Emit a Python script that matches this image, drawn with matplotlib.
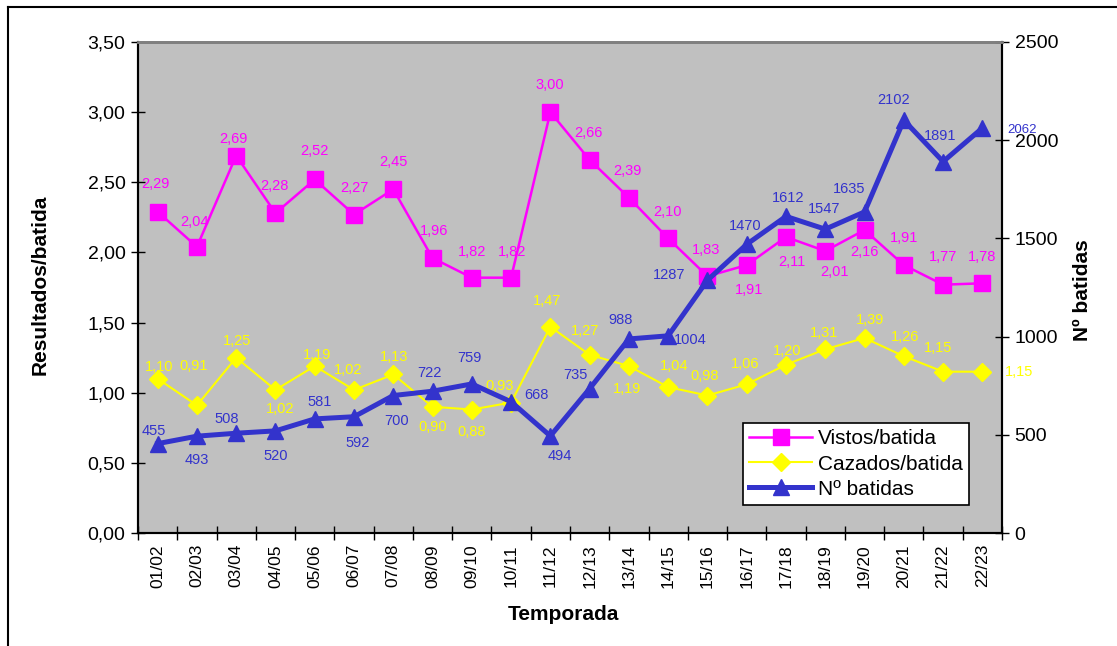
import matplotlib
matplotlib.use('Agg')
import matplotlib.pyplot as plt
from matplotlib.ticker import FuncFormatter, MultipleLocator
from matplotlib.lines import Line2D

plt.rcParams['font.family'] = ['Liberation Sans', 'DejaVu Sans']

# datos
temporadas = ['01/02', '02/03', '03/04', '04/05', '05/06', '06/07', '07/08', '08/09',
              '09/10', '10/11', '11/12', '12/13', '13/14', '14/15', '15/16', '16/17',
              '17/18', '18/19', '19/20', '20/21', '21/22', '22/23']
vistos = [2.29, 2.04, 2.69, 2.28, 2.52, 2.27, 2.45, 1.96, 1.82, 1.82, 3.00,
          2.66, 2.39, 2.10, 1.83, 1.91, 2.11, 2.01, 2.16, 1.91, 1.77, 1.78]
cazados = [1.10, 0.91, 1.25, 1.02, 1.19, 1.02, 1.13, 0.90, 0.88, 0.93, 1.47,
           1.27, 1.19, 1.04, 0.98, 1.06, 1.20, 1.31, 1.39, 1.26, 1.15, 1.15]
batidas = [455, 493, 508, 520, 581, 592, 700, 722, 759, 668, 494,
           735, 988, 1004, 1287, 1470, 1612, 1547, 1635, 2102, 1891, 2062]

# posicion de las etiquetas (pixeles respecto al punto)
off_vistos = [(-2, 28), (-2, 25), (-3, 17), (-1, 27), (0, 28), (0, 27), (0, 27), (2, 27),
              (0, 26), (1, 26), (-1, 27), (-1, 27), (-1, 27), (-1, 26), (-1, 26), (2, -25),
              (6, -25), (9, -21), (0, -22), (0, 27), (0, 28), (0, 26)]
off_cazados = [(1, 12), (-3, 39), (1, 17), (5, -19), (2, 11), (-6, 20), (1, 17), (0, -20),
               (0, -22), (-11, 17), (-3, 26), (-5, 24), (-2, -23), (6, 21), (-3, 20), (-2, 20),
               (1, 14), (-1, 16), (6, 18), (1, 19), (-5, 24), (37, 0)]
off_batidas = [(-4, 13), (0, -24), (-9, 14), (0, -25), (5, 17), (4, -26), (3, -25), (-3, 18),
               (-2, 26), (25, 7), (9, -20), (-14, 14), (-8, 19), (22, -4), (-38, 5), (-2, 18),
               (2, 18), (-1, 20), (-15, 23), (-10, 20), (-3, 26), (40, -2)]

c_vistos = '#FF00FF'
c_cazados = '#FFFF00'
c_batidas = '#3333CC'

fig = plt.figure(figsize=(11.17, 6.46), dpi=100)
ax = fig.add_axes([138 / 1117, 1 - 533 / 646, 864 / 1117, 491 / 646])
ax.set_facecolor('#C0C0C0')
ax2 = ax.twinx()

x = list(range(len(temporadas)))

ax.plot(x, vistos, color=c_vistos, lw=1.8, marker='s', ms=11, zorder=3)
ax.plot(x, cazados, color=c_cazados, lw=1.5, marker='D', ms=9, zorder=3)
ax2.plot(x, batidas, color=c_batidas, lw=3.6, marker='^', ms=11, zorder=3)

for i in x:
    ax.annotate(('%.2f' % vistos[i]).replace('.', ','), (i, vistos[i]),
                xytext=off_vistos[i], textcoords='offset pixels',
                ha='center', va='center', color=c_vistos, fontsize=10.5)
    ax.annotate(('%.2f' % cazados[i]).replace('.', ','), (i, cazados[i]),
                xytext=off_cazados[i], textcoords='offset pixels',
                ha='center', va='center', color=c_cazados, fontsize=10.5)
    ax2.annotate(str(batidas[i]), (i, batidas[i]),
                 xytext=off_batidas[i], textcoords='offset pixels',
                 ha='center', va='center', color=c_batidas,
                 fontsize=9.5 if i == len(x) - 1 else 10.5)

ax.set_xlim(-0.5, len(temporadas) - 0.5)
ax.set_ylim(0, 3.5)
ax2.set_ylim(0, 2500)
ax.yaxis.set_major_locator(MultipleLocator(0.5))
ax2.yaxis.set_major_locator(MultipleLocator(500))
ax.yaxis.set_major_formatter(FuncFormatter(lambda v, p: ('%.2f' % v).replace('.', ',')))

ax.set_xticks(x)
ax.set_xticklabels(temporadas, rotation=90, fontsize=12.5)
ax.set_xticks([i - 0.5 for i in range(len(temporadas) + 1)], minor=True)
ax.tick_params(axis='x', which='major', length=0, pad=8)
ax.tick_params(axis='x', which='minor', direction='inout', length=10, width=1)
ax.tick_params(axis='y', direction='inout', length=10, width=1, labelsize=14, pad=4)
ax2.tick_params(axis='y', direction='inout', length=10, width=1, labelsize=14, pad=4)

for a in (ax, ax2):
    a.spines['top'].set_color('#808080')
    a.spines['top'].set_linewidth(2)
    a.spines['left'].set_linewidth(1.5)
    a.spines['right'].set_linewidth(1.5)
    a.spines['bottom'].set_linewidth(1.5)

fig.text(40 / 1117, 1 - 285 / 646, 'Resultados/batida', rotation=90, ha='center', va='center',
         fontsize=15, fontweight='bold')
fig.text(1082 / 1117, 1 - 290 / 646, 'Nº batidas', rotation=90, ha='center', va='center',
         fontsize=15, fontweight='bold')
fig.text(563 / 1117, 1 - 614 / 646, 'Temporada', ha='center', va='center',
         fontsize=15, fontweight='bold')

handles = [
    Line2D([], [], color=c_vistos, lw=1.8, marker='s', ms=11),
    Line2D([], [], color=c_cazados, lw=1.5, marker='D', ms=9),
    Line2D([], [], color=c_batidas, lw=3.6, marker='^', ms=11),
]
leg = ax2.legend(handles, ['Vistos/batida', 'Cazados/batida', 'Nº batidas'],
                 loc='lower left', bbox_to_anchor=(743 / 1117, 1 - 505 / 646),
                 bbox_transform=fig.transFigure, fontsize=15, frameon=True, fancybox=False,
                 framealpha=1, edgecolor='black', borderpad=0.3, labelspacing=0.3,
                 handlelength=3.0, handletextpad=0.3, borderaxespad=0)
leg.get_frame().set_linewidth(1.2)

# marco exterior
fig.add_artist(Line2D([8 / 1117, 8 / 1117], [0, 1 - 7 / 646], color='black', lw=1.5,
                      transform=fig.transFigure))
fig.add_artist(Line2D([8 / 1117, 1], [1 - 7 / 646, 1 - 7 / 646], color='black', lw=1.5,
                      transform=fig.transFigure))

plt.savefig('out.png', dpi=100)
